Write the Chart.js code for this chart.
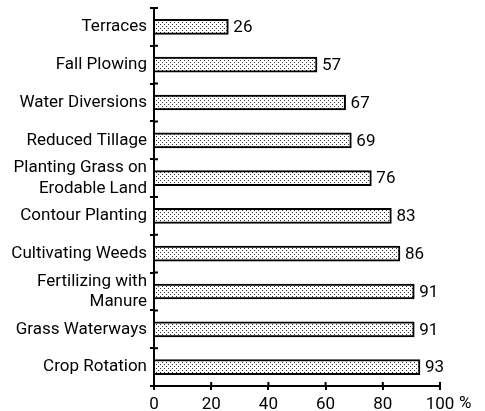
<!DOCTYPE html>
<html>
<head>
<meta charset="utf-8">
<script src="https://cdn.jsdelivr.net/npm/chart.js@4"></script>
<style>
  body { margin: 0; background: #fff; }
</style>
</head>
<body>
<canvas id="chart" width="485" height="411"></canvas>
<script>
const categories = [
    'Terraces',
    'Fall Plowing',
    'Water Diversions',
    'Reduced Tillage',
    ['Planting Grass on', 'Erodable Land'],
    'Contour Planting',
    'Cultivating Weeds',
    ['Fertilizing with', 'Manure'],
    'Grass Waterways',
    'Crop Rotation'
];
const percents = [26, 57, 67, 69, 76, 83, 86, 91, 91, 93];
const xTicks = [0, 20, 40, 60, 80, 100];

const FONT = "Roboto, 'DejaVu Sans Condensed', sans-serif";
const SIZE = 17;

// dotted fill like the printed screen
const makeDots = () => {
    const c = document.createElement('canvas');
    c.width = 4; c.height = 4;
    const g = c.getContext('2d');
    g.fillStyle = '#fff';
    g.fillRect(0, 0, 4, 4);
    g.fillStyle = '#333';
    g.fillRect(0, 0, 1, 1);
    g.fillRect(2, 2, 1, 1);
    return g.createPattern(c, 'repeat');
};

const valueLabels = {
    id: 'valueLabels',
    afterDatasetsDraw(chart) {
        const ctx = chart.ctx;
        ctx.save();
        ctx.font = SIZE + 'px ' + FONT;
        ctx.fillStyle = '#000';
        ctx.textBaseline = 'middle';
        chart.getDatasetMeta(0).data.forEach((bar, i) => {
            ctx.fillText(percents[i], bar.x + 5, bar.y + 1);
        });
        ctx.restore();
    }
};

const axisExtras = {
    id: 'axisExtras',
    afterDraw(chart) {
        const ctx = chart.ctx;
        const x = chart.scales.x, y = chart.scales.y;
        ctx.save();
        ctx.strokeStyle = '#000';
        ctx.lineWidth = 2;
        ctx.beginPath();
        // inward halves of tick marks
        xTicks.forEach(v => {
            const px = x.getPixelForValue(v);
            ctx.moveTo(px, x.top);
            ctx.lineTo(px, x.top - 4);
        });
        const step = y.getPixelForValue(1) - y.getPixelForValue(0);
        for (let i = 0; i <= categories.length; i++) {
            const py = y.getPixelForValue(i) - step / 2;
            ctx.moveTo(y.right, py);
            ctx.lineTo(y.right + 4, py);
        }
        ctx.stroke();
        // percent sign after the last tick label
        ctx.font = SIZE + 'px ' + FONT;
        ctx.fillStyle = '#000';
        ctx.textBaseline = 'top';
        ctx.fillText('%', x.getPixelForValue(100) + 19, x.top + 9);
        ctx.restore();
    }
};

new Chart(document.getElementById('chart'), {
    type: 'bar',
    data: {
        labels: categories,
        datasets: [{
            data: percents,
            backgroundColor: makeDots(),
            borderColor: '#000',
            borderWidth: 2,
            borderSkipped: 'start',
            barThickness: 15
        }]
    },
    options: {
        indexAxis: 'y',
        responsive: false,
        animation: false,
        layout: { padding: { top: 8, right: 45, left: 0, bottom: 0 } },
        plugins: { legend: { display: false }, tooltip: { enabled: false } },
        scales: {
            x: {
                min: 0,
                max: 100,
                afterBuildTicks: scale => { scale.ticks = xTicks.map(v => ({ value: v })); },
                afterFit: scale => { scale.height = 25; },
                border: { color: '#000', width: 2 },
                grid: { drawOnChartArea: false, color: '#000', lineWidth: 2, tickLength: 4 },
                ticks: {
                    color: '#000',
                    font: { family: FONT, size: SIZE },
                    padding: 5,
                    maxRotation: 0,
                    autoSkip: false
                }
            },
            y: {
                afterFit: scale => {
                    scale.width = 154;
                    scale.paddingTop = 0;
                    scale.paddingBottom = 0;
                },
                border: { color: '#000', width: 2 },
                grid: { drawOnChartArea: false, color: '#000', lineWidth: 2, tickLength: 4, offset: true },
                ticks: {
                    color: '#000',
                    font: { family: FONT, size: SIZE, lineHeight: 1.2 },
                    padding: 3,
                    autoSkip: false
                }
            }
        }
    },
    plugins: [valueLabels, axisExtras]
});
</script>
</body>
</html>
